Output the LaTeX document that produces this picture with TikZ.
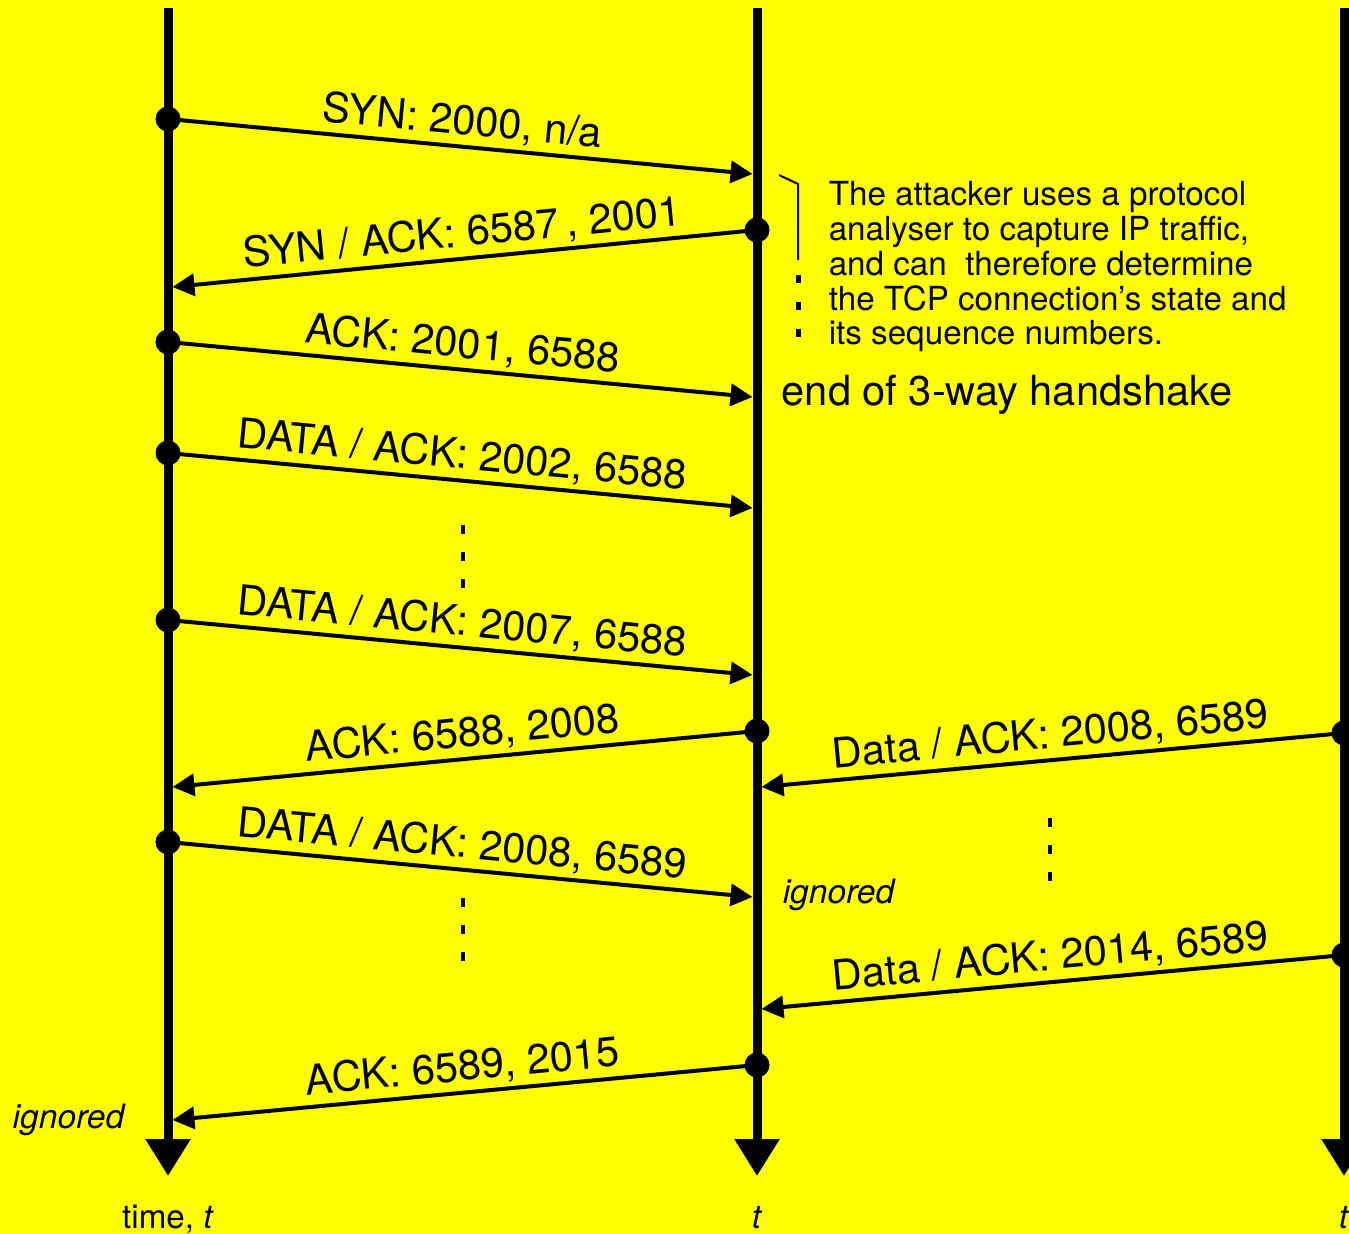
\documentclass[tikz,border=0pt]{standalone}
\usepackage{fontspec}
\setmainfont{TeX Gyre Heros}
\usetikzlibrary{arrows.meta}
\tikzset{every picture/.style={line width=0.75pt}}
\tikzset{
  timeline/.style={line width=4.5pt,-{Triangle[length=18.5pt,width=21.5pt]}},
  msg/.style={line width=2pt,-{Triangle[length=11pt,width=11pt]}},
  lbl/.style={sloped,above,midway,inner sep=2pt,font=\fontsize{20.8}{24}\selectfont},
  ev/.style={fill=black},
  gapmark/.style={line width=2.25pt,dash pattern={on 4.5pt off 9pt}},
  txt/.style={inner sep=0pt,font=\fontsize{16.6}{17.35}\selectfont}
}

\begin{document}
\begin{tikzpicture}[x=0.5pt,y={(0pt,-0.5pt)}]
%Background
\fill[color={rgb, 255:red, 255; green, 255; blue, 0 }] (0,0) rectangle (1349,1234);
\useasboundingbox (0,0) rectangle (1349,1234);
\clip (0,0) rectangle (1349,1234);

%Time lines
\coordinate (lTop) at (168,8);  \coordinate (lEnd) at (168,1176);
\coordinate (cTop) at (757,8);  \coordinate (cEnd) at (757,1176);
\coordinate (rTop) at (1344,8); \coordinate (rEnd) at (1344,1176);
\draw [timeline] (lTop) -- (lEnd) ;
\draw [timeline] (cTop) -- (cEnd) ;
\draw [timeline] (rTop) -- (rEnd) ;

%Message end points
\coordinate (s1) at (168,119);   \coordinate (r1) at (752.5,174);
\coordinate (s2) at (757,230);   \coordinate (r2) at (172.5,287);
\coordinate (s3) at (168,342);   \coordinate (r3) at (752.5,397);
\coordinate (s4) at (168,453);   \coordinate (r4) at (752.5,508);
\coordinate (s5) at (168,620);   \coordinate (r5) at (752.5,675);
\coordinate (s6) at (757,731);   \coordinate (r6) at (172.5,787);
\coordinate (s7) at (1344,733);  \coordinate (r7) at (761.5,787);
\coordinate (s8) at (168,842);   \coordinate (r8) at (752.5,897);
\coordinate (s9) at (1344,955);  \coordinate (r9) at (761.5,1009);
\coordinate (s10) at (757,1065); \coordinate (r10) at (172.5,1120);

%Messages
\draw [msg] (s1) -- node [lbl] {SYN: 2000, n/a} (r1) ;
\draw [msg] (s2) -- node [lbl] {SYN / ACK: 6587\,, 2001} (r2) ;
\draw [msg] (s3) -- node [lbl] {ACK: 2001, 6588} (r3) ;
\draw [msg] (s4) -- node [lbl] {DATA / ACK: 2002, 6588} (r4) ;
\draw [msg] (s5) -- node [lbl] {DATA / ACK: 2007, 6588} (r5) ;
\draw [msg] (s6) -- node [lbl] {ACK: 6588, 2008} (r6) ;
\draw [msg] (s7) -- node [lbl] {Data / ACK: 2008, 6589} (r7) ;
\draw [msg] (s8) -- node [lbl] {DATA / ACK: 2008, 6589} (r8) ;
\draw [msg] (s9) -- node [lbl] {Data / ACK: 2014, 6589} (r9) ;
\draw [msg] (s10) -- node [lbl] {ACK: 6589, 2015} (r10) ;

%Send events
\foreach \p in {s1,s2,s3,s4,s5,s6,s7,s8,s9,s10}
  \fill [ev] (\p) circle [radius=6.25pt] ;

%Gaps in the sequence
\coordinate (g1a) at (463,525);  \coordinate (g1b) at (463,590);
\coordinate (g2a) at (463,898);  \coordinate (g2b) at (463,963);
\coordinate (g3a) at (1050,818); \coordinate (g3b) at (1050,883);
\draw [gapmark] (g1a) -- (g1b) ;
\draw [gapmark] (g2a) -- (g2b) ;
\draw [gapmark] (g3a) -- (g3b) ;

%Bracket of the note
\coordinate (bTop) at (779,175); \coordinate (bCorner) at (798,184);
\coordinate (bMid) at (798,260); \coordinate (bEnd) at (798,340);
\draw [line width=1pt] (bTop) -- (bCorner) -- (bMid) ;
\draw [line width=2.5pt,dash pattern={on 4pt off 9.5pt}] (798,275) -- (bEnd) ;

% Text Node
\node (note) [txt,anchor=north west,align=left] at (828,181) {The attacker uses a protocol\\analyser to capture IP traffic,\\and can~ therefore determine\\the TCP connection’s state and\\its sequence numbers.};
% Text Node
\node (hs) [txt,anchor=base west,font=\fontsize{20.8}{24}\selectfont] at (781,406) {end of 3-way handshake};
% Text Node
\node (ign1) [txt,anchor=base west,font=\fontsize{16.8}{18}\itshape] at (782,903) {ignored};
% Text Node
\node (ign2) [txt,anchor=base west,font=\fontsize{16.8}{18}\itshape] at (12,1128) {ignored};
% Text Node
\node (tL) [txt,anchor=base] at (168,1228) {time, \textit{t}};
% Text Node
\node (tC) [txt,anchor=base] at (757,1228) {\textit{t}};
% Text Node
\node (tR) [txt,anchor=base] at (1344,1228) {\textit{t}};

\end{tikzpicture}
\end{document}
